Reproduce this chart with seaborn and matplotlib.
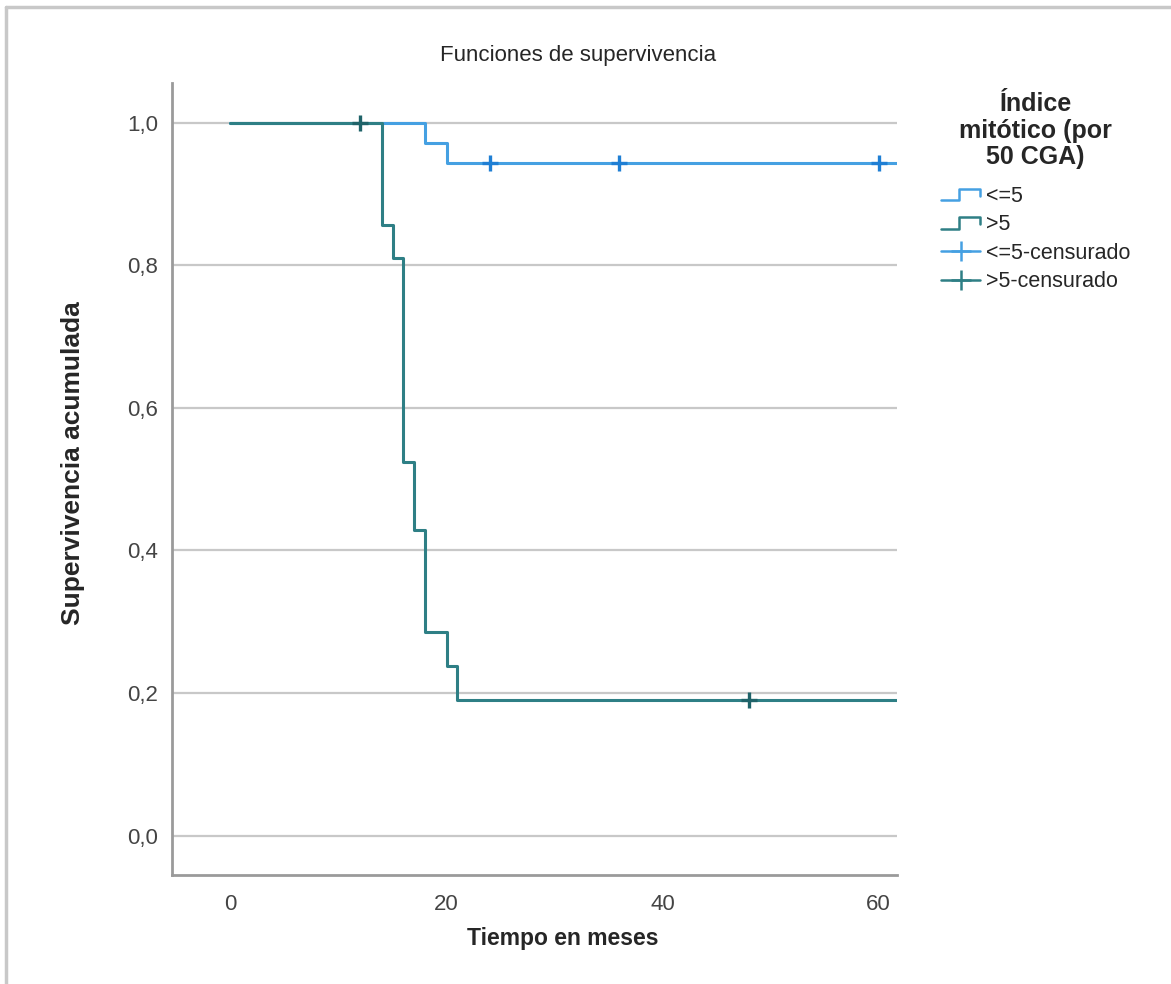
import matplotlib
matplotlib.use('Agg')
import matplotlib.pyplot as plt
from matplotlib import font_manager
from matplotlib.legend_handler import HandlerBase
from matplotlib.lines import Line2D
from matplotlib.ticker import FuncFormatter
import numpy as np
import pandas as pd
import seaborn as sns

# curvas de Kaplan-Meier
grupos = ['<=5', '>5']
tiempo_bajo = [0, 18, 20, 62]
surv_bajo = [1.0, 0.971, 0.943, 0.943]
tiempo_alto = [0, 14, 15, 16, 17, 18, 20, 21, 62]
surv_alto = [1.0, 0.857, 0.810, 0.524, 0.429, 0.286, 0.238, 0.190, 0.190]

# casos censurados
cens_bajo_t = [24, 36, 60]
cens_bajo_s = [0.943, 0.943, 0.943]
cens_alto_t = [12, 48]
cens_alto_s = [1.0, 0.190]

x_ticks = [0, 20, 40, 60]
y_ticks = [0.0, 0.2, 0.4, 0.6, 0.8, 1.0]

colores = {'<=5': '#45a0e2', '>5': '#2e7f85'}
colores_cens = {'<=5': '#1f7fd4', '>5': '#1f6369'}

df = pd.DataFrame({
    'tiempo': tiempo_bajo + tiempo_alto,
    'surv': surv_bajo + surv_alto,
    'grupo': ['<=5'] * len(tiempo_bajo) + ['>5'] * len(tiempo_alto),
})
df_cens = pd.DataFrame({
    'tiempo': cens_bajo_t + cens_alto_t,
    'surv': cens_bajo_s + cens_alto_s,
    'grupo': ['<=5'] * len(cens_bajo_t) + ['>5'] * len(cens_alto_t),
})

sns.set_style('white')
names = {f.name for f in font_manager.fontManager.ttflist}
narrow = 'Liberation Sans Narrow' if 'Liberation Sans Narrow' in names else 'Liberation Sans'
plt.rcParams['font.family'] = ['Liberation Sans', 'DejaVu Sans']


class StepLine(Line2D):
    pass


class StepHandler(HandlerBase):
    def create_artists(self, legend, orig_handle, xdescent, ydescent,
                       width, height, fontsize, trans):
        x0, y0 = -xdescent, -ydescent
        xs = [x0, x0 + width * 0.45, x0 + width * 0.45, x0 + width, x0 + width]
        ys = [y0 + height * 0.1, y0 + height * 0.1, y0 + height * 0.85,
              y0 + height * 0.85, y0 + height * 0.4]
        ln = Line2D(xs, ys, color=orig_handle.get_color(),
                    lw=orig_handle.get_linewidth())
        ln.set_transform(trans)
        return [ln]


fig = plt.figure(figsize=(11.71, 9.84), dpi=100)
ax = fig.add_axes([0.147, 0.111, 0.619, 0.805])

ax.grid(axis='y', color='#c8c8c8', lw=1.6)
ax.set_axisbelow(True)

sns.lineplot(data=df, x='tiempo', y='surv', hue='grupo', hue_order=grupos,
             palette=colores, drawstyle='steps-post', estimator=None,
             lw=2.2, legend=False, ax=ax)
sns.scatterplot(data=df_cens, x='tiempo', y='surv', hue='grupo', hue_order=grupos,
                palette=colores_cens, marker='+', s=130, linewidth=2.4,
                legend=False, ax=ax, zorder=4)

ax.set_xlim(-5.4, 61.7)
ax.set_ylim(-0.055, 1.056)
ax.set_xticks(x_ticks)
ax.set_yticks(y_ticks)
ax.yaxis.set_major_formatter(FuncFormatter(lambda v, p: f'{v:.1f}'.replace('.', ',')))
ax.tick_params(length=0, labelsize=16, labelcolor='#444444')
ax.tick_params(axis='x', pad=14)
ax.tick_params(axis='y', pad=10)
for lab in ax.get_xticklabels() + ax.get_yticklabels():
    lab.set_family(narrow)

for side in ['top', 'right']:
    ax.spines[side].set_visible(False)
for side in ['left', 'bottom']:
    ax.spines[side].set_color('#9a9a9a')
    ax.spines[side].set_linewidth(2)

ax.set_xlabel('Tiempo en meses', fontsize=16.5, fontweight='bold', family=narrow)
ax.xaxis.set_label_coords(0.539, -0.066)
ax.set_ylabel('Supervivencia acumulada', fontsize=19, fontweight='bold')
ax.yaxis.set_label_coords(-0.12, 0.52)

fig.text(578 / 1171, 1 - 56 / 984, 'Funciones de supervivencia', fontsize=16,
         family=narrow, ha='center', va='center')

handles = [
    StepLine([], [], color=colores['<=5'], lw=1.8),
    StepLine([], [], color=colores['>5'], lw=1.8),
    Line2D([], [], color=colores['<=5'], lw=1.8, marker='+', markersize=14, mew=1.8),
    Line2D([], [], color=colores['>5'], lw=1.8, marker='+', markersize=14, mew=1.8),
]
labels = ['<=5', '>5', '<=5-censurado', '>5-censurado']
leg = fig.legend(handles, labels, loc='upper left', bbox_to_anchor=(0.804, 0.906),
                 frameon=False, fontsize=15.5, handlelength=1.8, handletextpad=0.25,
                 labelspacing=0.35, borderpad=0, borderaxespad=0,
                 title='Índice\nmitótico (por\n50 CGA)',
                 title_fontproperties={'size': 18, 'weight': 'bold'},
                 handler_map={StepLine: StepHandler()})
leg.get_title().set_multialignment('center')
leg.get_title().set_linespacing(1.12)
leg._legend_box.sep = 12

# marco gris de la imagen
fig.add_artist(Line2D([6 / 1171, 1], [1 - 7 / 984, 1 - 7 / 984],
                      transform=fig.transFigure, color='#c8c8c8', lw=2.5))
fig.add_artist(Line2D([6 / 1171, 6 / 1171], [0, 1 - 7 / 984],
                      transform=fig.transFigure, color='#c8c8c8', lw=2.5))

fig.savefig('out.png', dpi=100)
